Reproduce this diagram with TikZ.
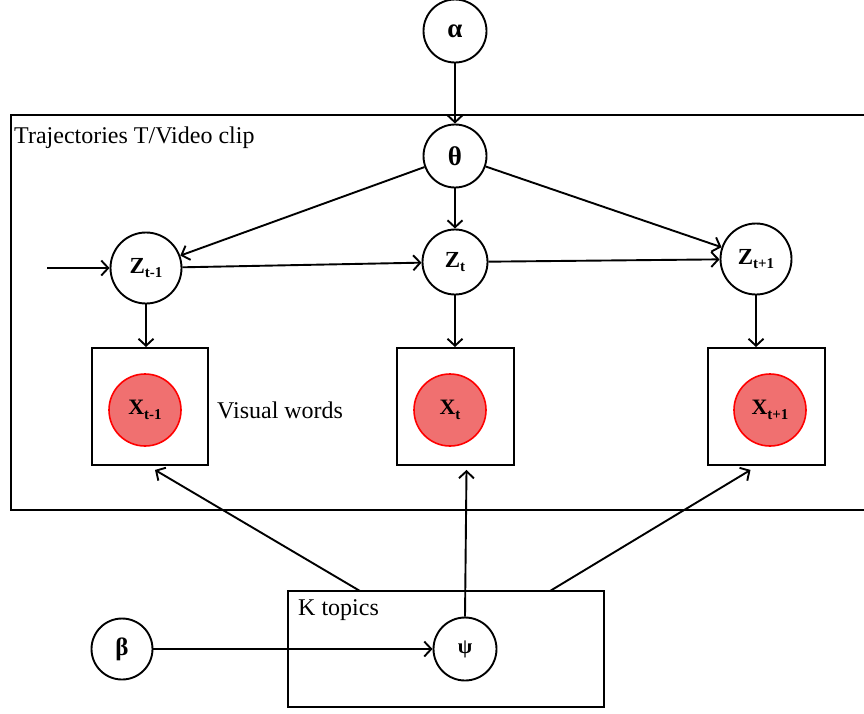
\documentclass[tikz,border=0pt]{standalone}
\usepackage{fontspec}
\setmainfont{Liberation Serif}
\usetikzlibrary{arrows.meta}
\definecolor{obsfill}{RGB}{240,112,112}
\definecolor{obsdraw}{RGB}{255,0,0}
\newcommand{\subt}[1]{{\fontsize{15}{15}\selectfont\raisebox{-4.5pt}{#1}}}
\begin{document}
\begin{tikzpicture}[x=1pt,y=-1pt,
  lw/.style={line width=1.9pt},
  var/.style={circle, draw, lw, inner sep=0pt, minimum size=63pt, font=\fontsize{23}{26}\selectfont\bfseries},
  greek/.style={font=\fontsize{27}{30}\selectfont\bfseries},
  bigvar/.style={var, minimum size=71pt},
  obs/.style={circle, draw=obsdraw, fill=obsfill, line width=1.6pt, inner sep=0pt, minimum size=72pt, font=\fontsize{22}{24}\selectfont\bfseries},
  plate/.style={draw, lw, inner sep=0pt},
  lbl/.style={anchor=base west, inner sep=0pt, font=\fontsize{24}{27}\selectfont},
  arr/.style={lw, -{Straight Barb[length=7pt,width=15pt]}}
]
\useasboundingbox (0,0) rectangle (864,713);
% plates
\draw[lw] (11,115) rectangle (868,510);
\node[lbl] (trajlbl) at (14,143) {Trajectories T/Video clip};
\node[plate, minimum width=316pt, minimum height=116pt] (kbox) at (446,649) {};
\node[lbl] (klbl) at (298,615) {K topics};
% observation boxes
\node[plate, minimum width=116pt, minimum height=117pt] (box1) at (150,406.5) {};
\node[plate, minimum width=117pt, minimum height=117pt] (box2) at (455.5,406.5) {};
\node[plate, minimum width=117pt, minimum height=117pt] (box3) at (766.5,406.5) {};
\node[obs] (x1) at (145,410) {X\subt{t-1}};
\node[obs] (x2) at (450,410) {X\subt{t}};
\node[obs] (x3) at (770,410) {X\subt{t+1}};
\node[lbl] (vw) at (217,418) {Visual words};
% latent variables
\node[var, greek] (alpha) at (455,31) {α};
\node[var, greek] (theta) at (455,156) {θ};
\node[bigvar] (z1) at (146,268) {Z\subt{t-1}};
\node[var, minimum size=65pt] (z2) at (455,262) {Z\subt{t}};
\node[bigvar] (z3) at (756,259) {Z\subt{t+1}};
\node[var, greek, minimum size=61pt, font=\fontsize{25}{28}\selectfont\bfseries] (beta) at (122,649) {β};
\node[var, font=\fontsize{21}{24}\selectfont\bfseries] (psi) at (465,649) {ψ};
% coordinates
\coordinate (zin) at (47,268);
\coordinate (k1) at (360,591);
\coordinate (k3) at (550,591);
% edges
\draw[arr] (alpha) -- (theta);
\draw[arr] (theta) -- (z1);
\draw[arr] (theta) -- (z2);
\draw[arr] (theta) -- (z3);
\draw[arr] (zin) -- (z1);
\draw[arr] (z1) -- (z2);
\draw[arr] (z2) -- (z3);
\draw[arr] (z1) -- (z1 |- box1.north);
\draw[arr] (z2) -- (z2 |- box2.north);
\draw[arr] (z3) -- (z3 |- box3.north);
\draw[arr] (beta) -- (psi);
\draw[arr] (k1) -- ([xshift=5pt,yshift=-4pt]box1.south);
\draw[arr] (psi.north) -- ([xshift=11pt,yshift=-4pt]box2.south);
\draw[arr] (k3) -- ([xshift=-16pt,yshift=-4pt]box3.south);
\end{tikzpicture}
\end{document}
